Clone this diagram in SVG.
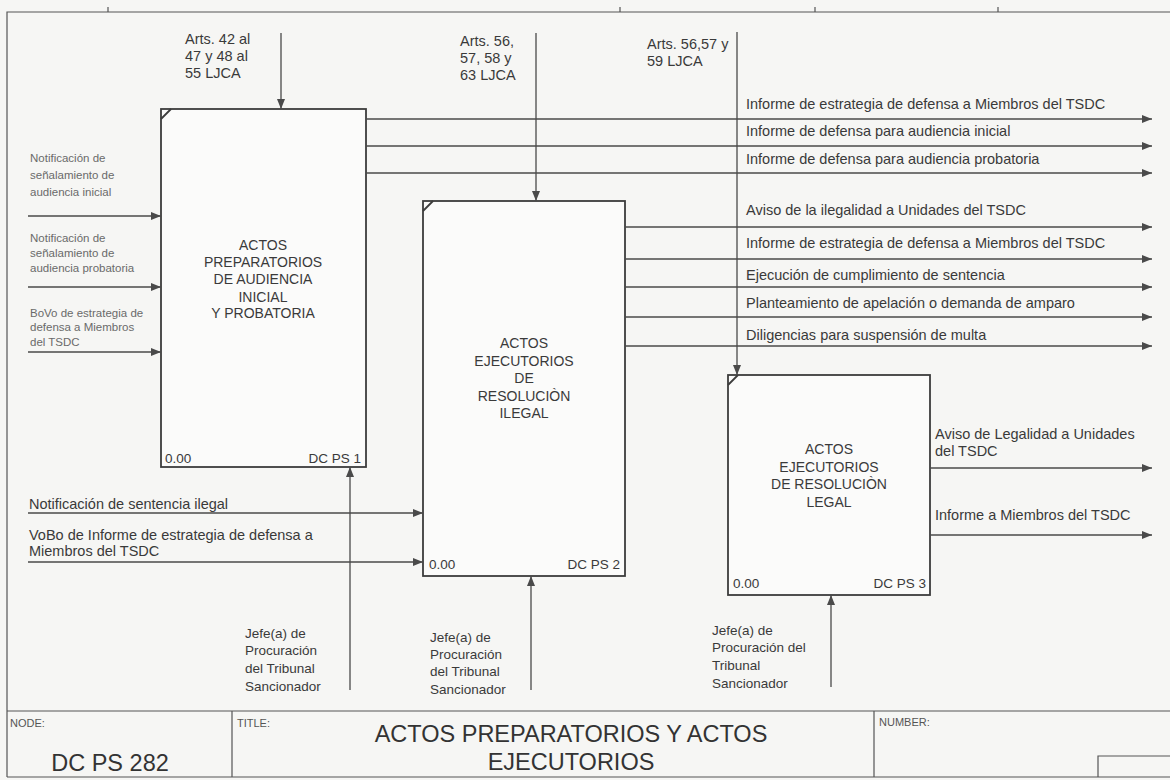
<svg xmlns="http://www.w3.org/2000/svg" width="1170" height="780" viewBox="0 0 1170 780">
<defs>
<marker id="ah" viewBox="0 0 10 8" refX="10" refY="4" markerWidth="10" markerHeight="8" markerUnits="userSpaceOnUse" orient="auto">
<path d="M0,0 L10,4 L0,8 z" fill="#4a4a4a"/>
</marker>
</defs>
<style>
text{font-family:"Liberation Sans",Arial,sans-serif;fill:#3a3a3a}
.box{fill:#fbfbfa;stroke:#3c3c3c;stroke-width:1.8}
.corner{stroke:#3c3c3c;stroke-width:1.8;fill:none}
.ttl{font-size:14px;text-anchor:middle}
.num{font-size:13.5px}
.end{text-anchor:end}
.lbl{font-size:14.5px}
.sm{font-size:11.5px;fill:#6a6a6a}
.ctl{font-size:14.5px}
.mech{font-size:13.5px}
.cn line{stroke:#4a4a4a;stroke-width:1.3;marker-end:url(#ah)}
.frame{stroke:#555;stroke-width:1.2;fill:none}
.tb{font-size:11px;fill:#555}
.big{font-size:23.5px;text-anchor:middle;fill:#333}
</style>
<rect x="0" y="0" width="1170" height="780" fill="#f6f6f4"/>

<g id="frame">
<path class="frame" d="M7,777 V12 H1170"/>
<path class="frame" d="M108,7 V12 M620,7 V12 M815,7 V12 M998,7 V12"/>
</g>

<g id="node1">
<rect class="box" x="161" y="109" width="205" height="358"/>
<line class="corner" x1="161" y1="119" x2="171" y2="109"/>
<text class="ttl" x="263" y="250">ACTOS</text>
<text class="ttl" x="263" y="267">PREPARATORIOS</text>
<text class="ttl" x="263" y="284">DE AUDIENCIA</text>
<text class="ttl" x="263" y="302">INICIAL</text>
<text class="ttl" x="263" y="318">Y PROBATORIA</text>
<text class="num" x="165" y="463">0.00</text>
<text class="num end" x="361" y="463">DC PS 1</text>
</g>

<g id="node2">
<rect class="box" x="423" y="201" width="202" height="375"/>
<line class="corner" x1="423" y1="211" x2="433" y2="201"/>
<text class="ttl" x="524" y="348">ACTOS</text>
<text class="ttl" x="524" y="366">EJECUTORIOS</text>
<text class="ttl" x="524" y="383">DE</text>
<text class="ttl" x="524" y="401">RESOLUCIÒN</text>
<text class="ttl" x="524" y="418">ILEGAL</text>
<text class="num" x="429" y="569">0.00</text>
<text class="num end" x="620" y="569">DC PS 2</text>
</g>

<g id="node3">
<rect class="box" x="728" y="375" width="202" height="220"/>
<line class="corner" x1="728" y1="385" x2="738" y2="375"/>
<text class="ttl" x="829" y="454">ACTOS</text>
<text class="ttl" x="829" y="472">EJECUTORIOS</text>
<text class="ttl" x="829" y="489">DE RESOLUCIÒN</text>
<text class="ttl" x="829" y="507">LEGAL</text>
<text class="num" x="733" y="588">0.00</text>
<text class="num end" x="926" y="588">DC PS 3</text>
</g>

<g id="connectors" class="cn">
<line x1="281" y1="33" x2="281" y2="109"/>
<line x1="536" y1="33" x2="536" y2="201"/>
<line x1="737" y1="32" x2="737" y2="375"/>
<line x1="28" y1="216" x2="161" y2="216"/>
<line x1="28" y1="287" x2="161" y2="287"/>
<line x1="28" y1="352" x2="161" y2="352"/>
<line x1="28" y1="513" x2="423" y2="513"/>
<line x1="28" y1="562" x2="423" y2="562"/>
<line x1="366" y1="119" x2="1152" y2="119"/>
<line x1="366" y1="146" x2="1152" y2="146"/>
<line x1="366" y1="173" x2="1152" y2="173"/>
<line x1="625" y1="227" x2="1152" y2="227"/>
<line x1="625" y1="259" x2="1152" y2="259"/>
<line x1="625" y1="287" x2="1152" y2="287"/>
<line x1="625" y1="317" x2="1152" y2="317"/>
<line x1="625" y1="346" x2="1152" y2="346"/>
<line x1="930" y1="468" x2="1152" y2="468"/>
<line x1="930" y1="535" x2="1152" y2="535"/>
<line x1="350" y1="690" x2="350" y2="467"/>
<line x1="531" y1="690" x2="531" y2="576"/>
<line x1="831" y1="687" x2="831" y2="595"/>
</g>

<g id="labels">
<text class="ctl" x="185" y="44">Arts. 42 al</text>
<text class="ctl" x="185" y="61">47 y 48 al</text>
<text class="ctl" x="185" y="78">55 LJCA</text>
<text class="ctl" x="460" y="46">Arts. 56,</text>
<text class="ctl" x="460" y="63">57, 58 y</text>
<text class="ctl" x="460" y="80">63 LJCA</text>
<text class="ctl" x="647" y="49">Arts. 56,57 y</text>
<text class="ctl" x="647" y="66">59 LJCA</text>

<text class="sm" x="30" y="162">Notificación de</text>
<text class="sm" x="30" y="179">señalamiento de</text>
<text class="sm" x="30" y="196">audiencia inicial</text>
<text class="sm" x="30" y="242">Notificación de</text>
<text class="sm" x="30" y="257">señalamiento de</text>
<text class="sm" x="30" y="272">audiencia probatoria</text>
<text class="sm" x="30" y="317">BoVo de estrategia de</text>
<text class="sm" x="30" y="331">defensa a Miembros</text>
<text class="sm" x="30" y="346">del TSDC</text>

<text class="lbl" x="29" y="509">Notificación de sentencia ilegal</text>
<text class="lbl" x="29" y="540">VoBo  de Informe de estrategia de defensa a</text>
<text class="lbl" x="29" y="556">Miembros del TSDC</text>

<text class="lbl" x="746" y="109">Informe de estrategia de defensa a Miembros del TSDC</text>
<text class="lbl" x="746" y="136">Informe de defensa para audiencia inicial</text>
<text class="lbl" x="746" y="164">Informe de defensa para audiencia probatoria</text>
<text class="lbl" x="746" y="215">Aviso de la ilegalidad a Unidades del TSDC</text>
<text class="lbl" x="746" y="248">Informe de estrategia de defensa a Miembros del TSDC</text>
<text class="lbl" x="746" y="280">Ejecución de cumplimiento de sentencia</text>
<text class="lbl" x="746" y="308">Planteamiento de apelación o demanda de amparo</text>
<text class="lbl" x="746" y="340">Diligencias para suspensión de multa</text>
<text class="lbl" x="935" y="439">Aviso de Legalidad a Unidades</text>
<text class="lbl" x="935" y="456">del TSDC</text>
<text class="lbl" x="935" y="520">Informe a Miembros del TSDC</text>

<text class="mech" x="245" y="638">Jefe(a) de</text>
<text class="mech" x="245" y="655">Procuración</text>
<text class="mech" x="245" y="673">del Tribunal</text>
<text class="mech" x="245" y="691">Sancionador</text>
<text class="mech" x="430" y="642">Jefe(a) de</text>
<text class="mech" x="430" y="659">Procuración</text>
<text class="mech" x="430" y="676">del Tribunal</text>
<text class="mech" x="430" y="694">Sancionador</text>
<text class="mech" x="712" y="635">Jefe(a) de</text>
<text class="mech" x="712" y="652">Procuración del</text>
<text class="mech" x="712" y="670">Tribunal</text>
<text class="mech" x="712" y="688">Sancionador</text>
</g>

<g id="titleblock">
<path class="frame" d="M7,711 H1170 M7,777 H1170 M232,711 V777 M874,711 V777 M1098,777 V756 H1170"/>
<text class="tb" x="10" y="727">NODE:</text>
<text class="big" x="110" y="771">DC PS 282</text>
<text class="tb" x="237" y="727">TITLE:</text>
<text class="big" x="571" y="742">ACTOS PREPARATORIOS Y ACTOS</text>
<text class="big" x="571" y="770">EJECUTORIOS</text>
<text class="tb" x="879" y="726">NUMBER:</text>
</g>
</svg>
